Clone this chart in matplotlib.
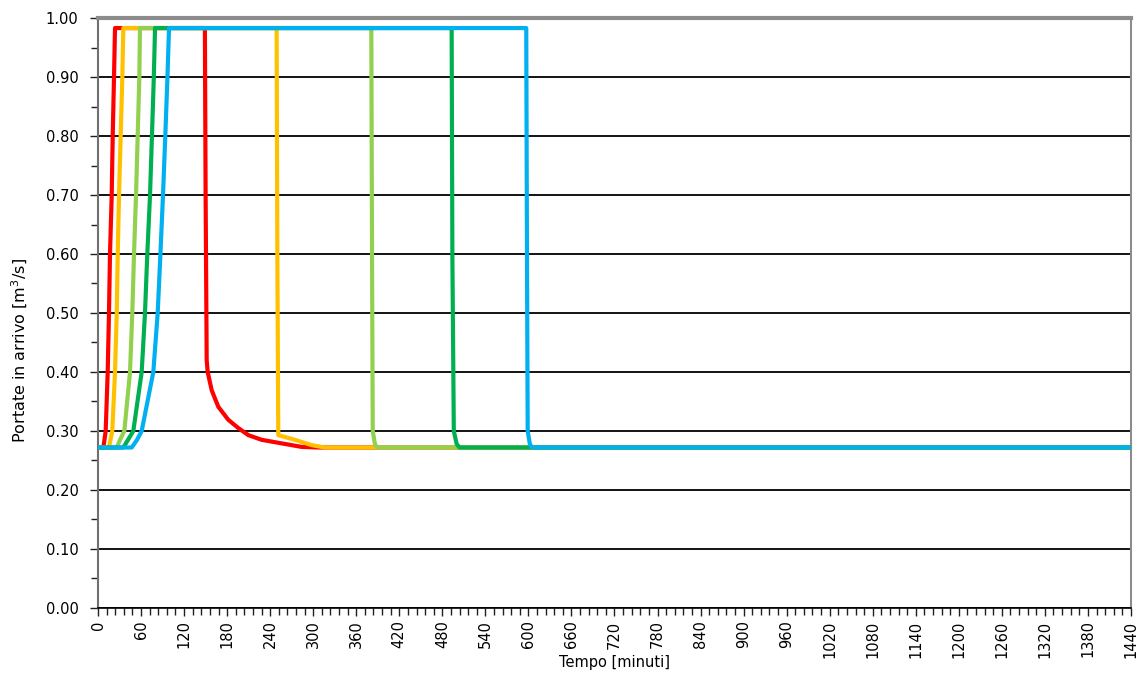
import matplotlib.pyplot as plt
from matplotlib.ticker import MultipleLocator

# portate in arrivo per i cinque scenari [minuti, m3/s]
t_rosso = [0, 7.4, 9, 10.7, 13.5, 15.3, 16.7, 19.1, 20.5, 22.3, 23.7, 149, 150, 151.5, 152.9, 158.5,
           167.7, 181.6, 195.6, 209.5, 228.2, 256, 284, 306.7, 1440]
q_rosso = [0.272, 0.272, 0.285, 0.30, 0.40, 0.50, 0.60, 0.70, 0.80, 0.90, 0.983, 0.983, 0.70, 0.42, 0.40, 0.369,
           0.341, 0.319, 0.305, 0.293, 0.285, 0.279, 0.273, 0.272, 0.272]

t_arancio = [0, 15.3, 17.4, 19.9, 23.7, 26.1, 27.5, 29.3, 31.6, 33.9, 35.3, 249, 250, 251.3,
             274.6, 297.9, 316.4, 1440]
q_arancio = [0.272, 0.272, 0.285, 0.30, 0.40, 0.50, 0.60, 0.70, 0.80, 0.90, 0.983, 0.983, 0.60, 0.293,
             0.285, 0.276, 0.272, 0.272]

t_verde_chiaro = [0, 26.1, 30.7, 36.7, 44.6, 47.8, 50.2, 53, 55.3, 57.6, 58.5, 381, 382, 383, 386, 389, 1440]
q_verde_chiaro = [0.272, 0.272, 0.285, 0.30, 0.40, 0.50, 0.60, 0.70, 0.80, 0.90, 0.983, 0.983, 0.60, 0.30,
                  0.278, 0.272, 0.272]

t_verde_scuro = [0, 35.3, 41.8, 49.2, 60.9, 65.5, 68.7, 72.5, 75.2, 77.8, 79.5, 493, 494, 496, 500, 504, 1440]
q_verde_scuro = [0.272, 0.272, 0.285, 0.30, 0.40, 0.50, 0.60, 0.70, 0.80, 0.90, 0.983, 0.983, 0.60, 0.30,
                 0.278, 0.272, 0.272]

t_azzurro = [0, 47, 54.4, 60.9, 77.1, 83.2, 87.0, 90.6, 93.8, 96.8, 99, 597, 598, 599, 602, 605, 1440]
q_azzurro = [0.272, 0.272, 0.285, 0.30, 0.40, 0.50, 0.60, 0.70, 0.80, 0.90, 0.983, 0.983, 0.60, 0.30,
             0.278, 0.272, 0.272]

serie = [
    (t_rosso, q_rosso, '#FF0000'),
    (t_arancio, q_arancio, '#FFC000'),
    (t_verde_chiaro, q_verde_chiaro, '#92D050'),
    (t_verde_scuro, q_verde_scuro, '#00B050'),
    (t_azzurro, q_azzurro, '#00B0F0'),
]

fig = plt.figure(figsize=(11.41, 6.75), dpi=100)
ax = fig.add_axes([0.0859, 0.0993, 0.9053, 0.874])

for t, q, col in serie:
    ax.plot(t, q, color=col, lw=3.0, solid_joinstyle='round', solid_capstyle='butt', zorder=3)

ax.set_xlim(0, 1440)
ax.set_ylim(0, 1.0)

ax.xaxis.set_minor_locator(MultipleLocator(12))
ax.yaxis.set_minor_locator(MultipleLocator(0.05))
ax.set_yticks([i / 10 for i in range(11)])
ax.set_yticklabels([f'{i / 10:.2f}' for i in range(11)], fontsize=10.5)
ax.set_xticks(range(0, 1441, 60))
ax.set_xticklabels([str(v) for v in range(0, 1441, 60)], rotation=90, fontsize=10.5)

ax.tick_params(axis='both', which='major', direction='out', length=6, width=1, color='#202020')
ax.tick_params(axis='both', which='minor', direction='out', length=5, width=1, color='#202020')
ax.tick_params(axis='y', which='major', pad=8)
ax.tick_params(axis='x', which='major', pad=3)

ax.grid(axis='y', which='major', color='black', lw=1.3, zorder=1)

ax.spines['top'].set_color('#8c8c8c')
ax.spines['top'].set_linewidth(3)
ax.spines['right'].set_color('#8c8c8c')
ax.spines['right'].set_linewidth(1.5)
ax.spines['left'].set_color('#707070')
ax.spines['left'].set_linewidth(1.5)
ax.spines['bottom'].set_color('black')
ax.spines['bottom'].set_linewidth(1.2)

ax.set_xlabel('Tempo [minuti]', fontsize=10.5)
ax.xaxis.set_label_coords(0.5, -0.079)
ax.set_ylabel('Portate in arrivo [m$^3$/s]', fontsize=11.5)
ax.yaxis.set_label_coords(-0.066, 0.437)

fig.savefig('out.png', dpi=100)
